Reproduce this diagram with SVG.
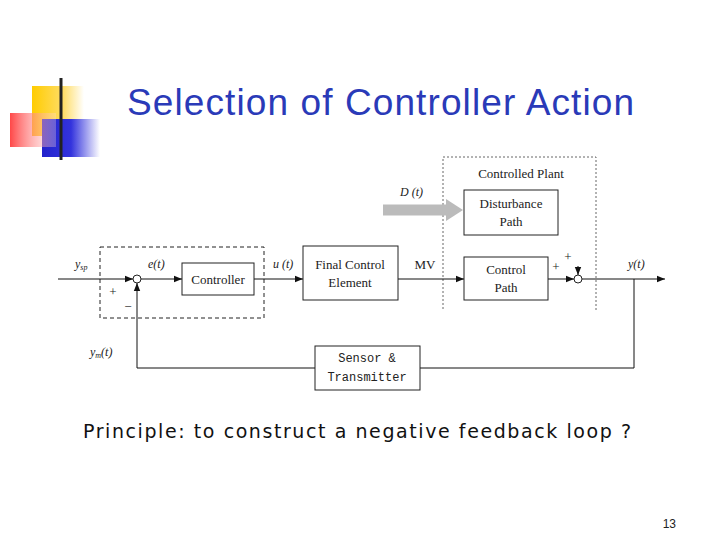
<svg xmlns="http://www.w3.org/2000/svg" width="720" height="540" viewBox="0 0 720 540">
<defs>
<linearGradient id="gr" x1="0" x2="1"><stop offset="0" stop-color="#f33" stop-opacity="0.9"/><stop offset="1" stop-color="#fdd" stop-opacity="0.3"/></linearGradient>
<linearGradient id="gb" x1="0" x2="1"><stop offset="0" stop-color="#22c"/><stop offset="0.5" stop-color="#33d"/><stop offset="1" stop-color="#fff"/></linearGradient>
<linearGradient id="gy" x1="0" x2="1"><stop offset="0" stop-color="#fc0"/><stop offset="0.6" stop-color="#fd6"/><stop offset="1" stop-color="#fff"/></linearGradient>
<linearGradient id="gl" x1="0" x2="1"><stop offset="0" stop-color="#333"/><stop offset="1" stop-color="#999"/></linearGradient>
<marker id="a" viewBox="0 0 10 10" refX="10" refY="5" markerWidth="8" markerHeight="8" orient="auto" markerUnits="userSpaceOnUse"><path d="M0,1L10,5L0,9z" fill="#111"/></marker>
</defs>
<style>
.b{fill:#fff;stroke:#222;stroke-width:1}
.l{fill:none;stroke:#111;stroke-width:1}
.t{font-family:"Liberation Serif",serif;font-size:13px;fill:#222;text-anchor:middle}
.m{font-family:"Liberation Mono",monospace;font-size:12px;fill:#222;text-anchor:middle}
.i{font-family:"Liberation Serif",serif;font-style:italic;font-size:12px;fill:#222}
</style>
<rect width="720" height="540" fill="#fff"/>
<rect x="32" y="86" width="52" height="50" fill="url(#gy)"/>
<rect x="42" y="119" width="58" height="38" fill="url(#gb)"/>
<rect x="10" y="113" width="46" height="34" fill="url(#gr)"/>
<line x1="61" y1="78" x2="61" y2="160" stroke="#222" stroke-width="3"/>
<line x1="34" y1="141" x2="720" y2="141" stroke="url(#gl)" stroke-width="2"/>
<text x="127" y="115" font-family="Liberation Sans,sans-serif" font-size="37" fill="#2a3ab8" textLength="507">Selection of Controller Action</text>
<g id="connectors">
<rect x="100" y="247" width="164" height="71" fill="none" stroke="#222" stroke-dasharray="4,3"/>
<path d="M596,310V157H443V310" fill="none" stroke="#666" stroke-dasharray="2,2"/>
<path d="M383,210H448" stroke="#bbb" stroke-width="11"/>
<path d="M446,199L463,210L446,221z" fill="#bbb"/>
<path class="l" d="M58,279H133" marker-end="url(#a)"/>
<path class="l" d="M141,279H182" marker-end="url(#a)"/>
<path class="l" d="M254,279H303" marker-end="url(#a)"/>
<path class="l" d="M398,279H464" marker-end="url(#a)"/>
<path class="l" d="M548,279H574" marker-end="url(#a)"/>
<path class="l" d="M578,266V275" marker-end="url(#a)"/>
<path class="l" d="M582,279H665" marker-end="url(#a)"/>
<path class="l" d="M634,279V368H420"/>
<path class="l" d="M315,368H137V283" marker-end="url(#a)"/>
<circle cx="137" cy="279" r="4" class="b"/>
<circle cx="578" cy="279" r="4" class="b"/>
</g>
<g id="controller"><rect class="b" x="182" y="263" width="72" height="32"/><text class="t" x="218" y="284">Controller</text></g>
<g id="fce"><rect class="b" x="303" y="246" width="95" height="54"/><text class="t" x="350" y="269">Final Control</text><text class="t" x="350" y="287">Element</text></g>
<g id="dist"><rect class="b" x="464" y="190" width="94" height="45"/><text class="t" x="511" y="208">Disturbance</text><text class="t" x="511" y="226">Path</text></g>
<g id="cp"><rect class="b" x="464" y="257" width="84" height="43"/><text class="t" x="506" y="274">Control</text><text class="t" x="506" y="292">Path</text></g>
<g id="sensor"><rect class="b" x="315" y="346" width="105" height="44"/><text class="m" x="367" y="362">Sensor &amp;</text><text class="m" x="367" y="381">Transmitter</text></g>
<text class="t" x="521" y="178">Controlled Plant</text>
<text class="i" x="400" y="196">D (t)</text>
<text class="i" x="75" y="268">y<tspan font-size="8" dy="2">sp</tspan></text>
<text class="i" x="148" y="268">e(t)</text>
<text class="i" x="273" y="268">u (t)</text>
<text class="t" x="425" y="269">MV</text>
<text class="i" x="628" y="268">y(t)</text>
<text class="i" x="90" y="356">y<tspan font-size="8" dy="2">m</tspan><tspan dy="-2">(t)</tspan></text>
<text class="t" x="113" y="296">+</text>
<text class="t" x="128" y="311" fill="#999">−</text>
<text class="t" x="556" y="271">+</text>
<text class="t" x="568" y="261">+</text>
<text x="83" y="438" font-family="DejaVu Sans,sans-serif" font-size="19" fill="#111" textLength="548">Principle: to construct a negative feedback loop ?</text>
<text x="676" y="528" font-family="Liberation Sans,sans-serif" font-size="12" fill="#222" text-anchor="end">13</text>
</svg>
